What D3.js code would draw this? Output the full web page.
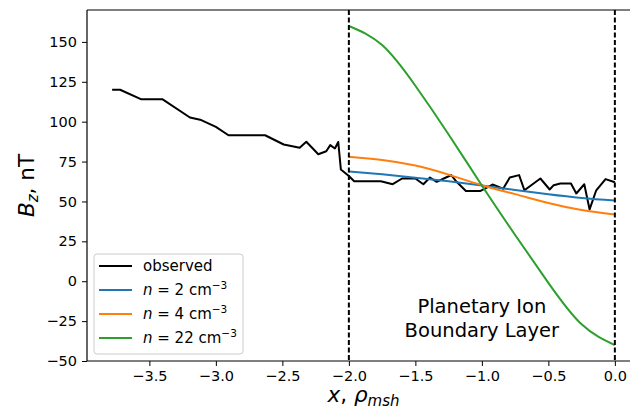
<!DOCTYPE html>
<html>
<head>
<meta charset="utf-8">
<script src="https://cdn.jsdelivr.net/npm/d3@7"></script>
<style>
  body { margin: 0; background: #fff; }
  svg { font-family: "DejaVu Sans", sans-serif; }
</style>
</head>
<body>
<div id="chart"></div>
<script>
// observed Bz along the track
var obs_x = [-3.78, -3.72, -3.56, -3.40, -3.195, -3.11, -3.0, -2.905, -2.63, -2.49, -2.37, -2.32,
             -2.23, -2.17, -2.14, -2.105, -2.08, -2.06, -2.0, -1.96, -1.76, -1.67, -1.60, -1.50,
             -1.44, -1.39, -1.34, -1.27, -1.23, -1.19, -1.12, -1.01, -0.92, -0.84, -0.79, -0.72,
             -0.68, -0.56, -0.49, -0.46, -0.41, -0.33, -0.29, -0.23, -0.19, -0.14, -0.07, 0.0];
var obs_y = [120, 120, 114, 114, 102.6, 101, 96.7, 91.5, 91.5, 85.7, 83.6, 87.4,
             79.6, 81.5, 85.3, 83.2, 87.3, 70, 66, 62.7, 62.7, 60.8, 64.4, 64.4,
             60.8, 65, 62.3, 65, 66.5, 62.3, 56.6, 56.6, 60.6, 58, 65, 66.5,
             57, 64.4, 57.5, 60.2, 61.2, 61.2, 55, 60.8, 45, 57, 64, 62];

// model curves
var model_x = [-2.0, -1.75, -1.5, -1.25, -1.0, -0.75, -0.5, -0.25, 0.0];
var n2_y  = [68.8, 67.0, 64.9, 62.6, 60.0, 57.2, 54.5, 52.2, 50.6];
var n4_y  = [78.0, 76.0, 72.5, 66.8, 60.2, 54.6, 49.0, 44.6, 41.8];
var n22_y = [160, 148, 122.5, 92, 60, 29, -1, -27, -40];

var x_ticks = [-3.5, -3.0, -2.5, -2.0, -1.5, -1.0, -0.5, 0.0];
var y_ticks = [-50, -25, 0, 25, 50, 75, 100, 125, 150];
var boundaries = [-2.0, 0.0];

var chart_width = 630;
var chart_height = 414;
var plot_left = 87, plot_right = 640, plot_top = 10, plot_bottom = 361;

var x_scale = d3.scaleLinear().domain([-3.969, 0.189]).range([plot_left, plot_right]);
var y_scale = d3.scaleLinear().domain([-50, 170]).range([plot_bottom, plot_top]);

var svg = d3.select('#chart')
            .append('svg')
            .attr('width', chart_width)
            .attr('height', chart_height);

svg.append('defs').append('clipPath')
   .attr('id', 'plot-clip')
   .append('rect')
   .attr('x', plot_left).attr('y', plot_top)
   .attr('width', plot_right - plot_left).attr('height', plot_bottom - plot_top);

var plot = svg.append('g').attr('clip-path', 'url(#plot-clip)');

function zip(xs, ys) {
  return xs.map(function(d, i) { return [d, ys[i]]; });
}

var line = d3.line()
             .x(function(d) { return x_scale(d[0]); })
             .y(function(d) { return y_scale(d[1]); });

var smooth = d3.line()
               .curve(d3.curveNatural)
               .x(function(d) { return x_scale(d[0]); })
               .y(function(d) { return y_scale(d[1]); });

plot.append('path')
    .attr('d', line(zip(obs_x, obs_y)))
    .attr('fill', 'none')
    .attr('stroke', '#000')
    .attr('stroke-width', 2)
    .attr('stroke-linejoin', 'round');

var models = [
  {y: n2_y, color: '#1f77b4'},
  {y: n4_y, color: '#ff7f0e'},
  {y: n22_y, color: '#2ca02c'}
];

plot.selectAll('path.model')
    .data(models)
    .enter()
    .append('path')
    .attr('class', 'model')
    .attr('d', function(d) { return smooth(zip(model_x, d.y)); })
    .attr('fill', 'none')
    .attr('stroke', function(d) { return d.color; })
    .attr('stroke-width', 2);

// dashed boundary lines
plot.selectAll('line.bound')
    .data(boundaries)
    .enter()
    .append('line')
    .attr('class', 'bound')
    .attr('x1', function(d) { return x_scale(d); })
    .attr('x2', function(d) { return x_scale(d); })
    .attr('y1', plot_top)
    .attr('y2', plot_bottom)
    .attr('stroke', '#000')
    .attr('stroke-width', 2)
    .attr('stroke-dasharray', '5,2.5');

// axes
var x_axis = svg.append('g')
   .attr('transform', 'translate(0,' + plot_bottom + ')')
   .call(d3.axisBottom(x_scale).tickValues(x_ticks).tickSize(5).tickPadding(5)
         .tickFormat(function(d) { return d3.format('.1f')(d).replace('-', '\u2212'); }));

var y_axis = svg.append('g')
   .attr('transform', 'translate(' + plot_left + ',0)')
   .call(d3.axisLeft(y_scale).tickValues(y_ticks).tickSize(5).tickPadding(5)
         .tickFormat(function(d) { return String(d).replace('-', '\u2212'); }));

[x_axis, y_axis].forEach(function(a) {
  a.selectAll('text').style('font-size', '14.5px').attr('fill', '#000')
   .style('font-family', '"DejaVu Sans", sans-serif');
  a.selectAll('line').attr('stroke', '#000').attr('stroke-width', 1);
  a.select('.domain').remove();
});

// spines
svg.append('line').attr('x1', plot_left).attr('x2', plot_left).attr('y1', plot_top).attr('y2', plot_bottom)
   .attr('stroke', '#000').attr('stroke-width', 1.2);
svg.append('line').attr('x1', plot_left).attr('x2', chart_width).attr('y1', plot_bottom).attr('y2', plot_bottom)
   .attr('stroke', '#000').attr('stroke-width', 1.2);
svg.append('line').attr('x1', plot_left).attr('x2', chart_width).attr('y1', plot_top).attr('y2', plot_top)
   .attr('stroke', '#000').attr('stroke-width', 1.2);

// region annotation
var note = svg.append('text')
   .attr('text-anchor', 'middle')
   .style('font-size', '19.5px')
   .attr('fill', '#000');
note.append('tspan').attr('x', x_scale(-1.0)).attr('y', 313).text('Planetary Ion');
note.append('tspan').attr('x', x_scale(-1.0)).attr('y', 337).text('Boundary Layer');

// axis labels
var ylab = svg.append('text')
   .attr('transform', 'translate(34,' + ((plot_top + plot_bottom) / 2) + ') rotate(-90)')
   .attr('text-anchor', 'middle')
   .style('font-size', '21.5px');
ylab.append('tspan').style('font-style', 'italic').text('B');
ylab.append('tspan').style('font-style', 'italic').style('font-size', '15px').attr('dy', 4).text('z');
ylab.append('tspan').attr('dy', -4).text(', nT');

var xlab = svg.append('text')
   .attr('x', (plot_left + plot_right) / 2)
   .attr('y', 402)
   .attr('text-anchor', 'middle')
   .style('font-size', '21.5px');
xlab.append('tspan').style('font-style', 'italic').text('x');
xlab.append('tspan').text(', ');
xlab.append('tspan').style('font-style', 'italic').text('\u03c1');
xlab.append('tspan').style('font-style', 'italic').style('font-size', '15px').attr('dy', 4).text('msh');

// legend
var legend_items = [
  {label: 'observed', color: '#000', n: null},
  {label: '2', color: '#1f77b4', n: true},
  {label: '4', color: '#ff7f0e', n: true},
  {label: '22', color: '#2ca02c', n: true}
];

var legend = svg.append('g');
legend.append('rect')
      .attr('x', 94).attr('y', 254).attr('width', 149).attr('height', 100)
      .attr('rx', 3)
      .attr('fill', '#fff').attr('fill-opacity', 0.8)
      .attr('stroke', '#ccc').attr('stroke-width', 1);

var rows = legend.selectAll('g.row')
      .data(legend_items)
      .enter()
      .append('g')
      .attr('class', 'row')
      .attr('transform', function(d, i) { return 'translate(0,' + (266 + i * 24) + ')'; });

rows.append('line')
    .attr('x1', 99).attr('x2', 132)
    .attr('stroke', function(d) { return d.color; })
    .attr('stroke-width', 2);

var labels = rows.append('text')
    .attr('x', 143).attr('y', 5)
    .style('font-size', '15px');

labels.each(function(d) {
  var t = d3.select(this);
  if (!d.n) { t.text(d.label); return; }
  t.append('tspan').style('font-style', 'italic').text('n');
  t.append('tspan').text(' = ' + d.label + ' cm');
  t.append('tspan').style('font-size', '10.5px').attr('dy', -6).text('\u22123');
});
</script>
</body>
</html>
